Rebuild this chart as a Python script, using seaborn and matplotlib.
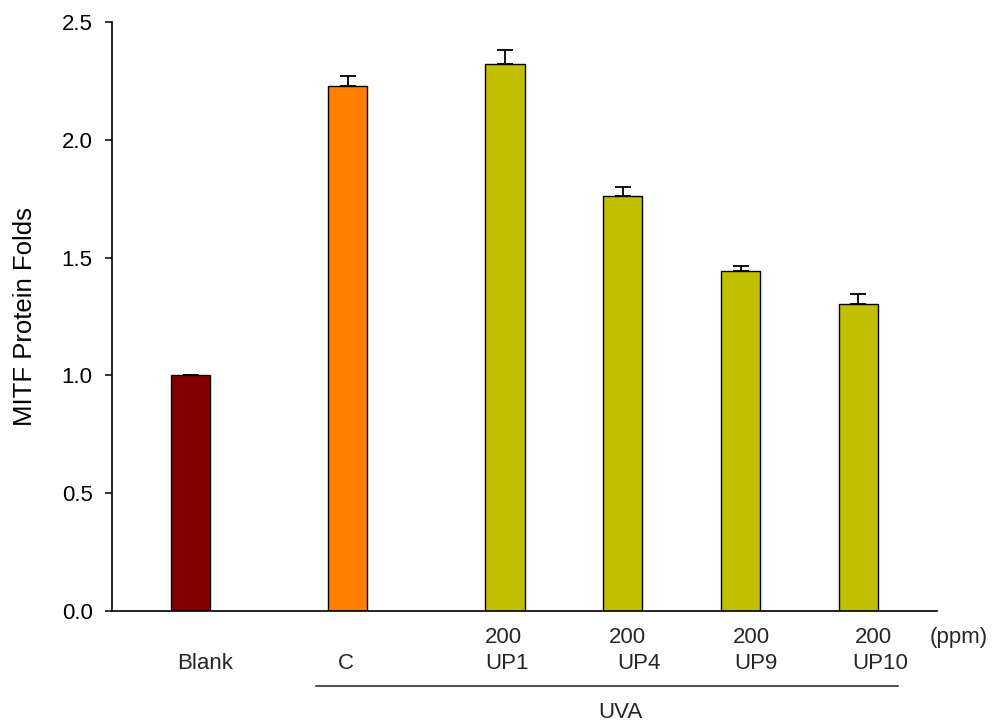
import matplotlib
matplotlib.use("Agg")
import matplotlib.pyplot as plt
import matplotlib.transforms as mtransforms
import seaborn as sns
import pandas as pd

# ---- data ----
categories = ["Blank", "C", "UP1", "UP4", "UP9", "UP10"]
dose_labels = ["", "", "200", "200", "200", "200"]
name_labels = ["Blank", "C", "UP1", "UP4", "UP9", "UP10"]
positions = [0, 4, 8, 11, 14, 17]
values = [1.00, 2.23, 2.32, 1.76, 1.443, 1.305]
errors = [0.0, 0.04, 0.06, 0.04, 0.02, 0.04]
colors = ["#800000", "#FF8000", "#C0C000", "#C0C000", "#C0C000", "#C0C000"]
y_ticks = [0.0, 0.5, 1.0, 1.5, 2.0, 2.5]

# label offsets (pixels) relative to bar centres
dose_dx = [0, 0, -1, 5, 11, 15]
name_dx = [14, -2, 2, 16, 15, 22]

sns.set_theme(style="ticks")
plt.rcParams["font.family"] = ["Liberation Sans", "DejaVu Sans"]

df = pd.DataFrame({"pos": positions, "val": values, "cat": categories})

W, H = 997, 724
fig = plt.figure(figsize=(W / 100, H / 100), dpi=100)
left, right, top, bottom = 112, 937, 22, 611
ax = fig.add_axes([left / W, 1 - bottom / H, (right - left) / W, (bottom - top) / H])

sns.barplot(data=df, x="pos", y="val", hue="cat", palette=dict(zip(categories, colors)),
            native_scale=True, width=1/3, edgecolor="black", linewidth=1.0,
            saturation=1, legend=False, ax=ax, errorbar=None, dodge=False)

ax.errorbar(positions, values, yerr=[[0] * len(errors), errors], fmt="none",
            ecolor="black", elinewidth=1.3, capsize=6, capthick=1.3, zorder=1)

ax.set_xlim(-2.0, 19.0)
ax.set_ylim(0, 2.5)
ax.set_yticks(y_ticks)
ax.set_yticklabels([f"{t:.1f}" for t in y_ticks])
ax.set_xticks([])
ax.tick_params(axis="y", length=5, width=1.1, pad=9, labelsize=16, colors="black")
ax.set_xlabel("")
ax.set_ylabel("MITF Protein Folds", fontsize=18.5, color="black")
ax.yaxis.label.set_va("center")
ax.yaxis.set_label_coords((25 - left) / (right - left), 0.5)

sns.despine(ax=ax)
for s in ("left", "bottom"):
    ax.spines[s].set_linewidth(1.2)
    ax.spines[s].set_color("black")

# category labels under bars
trans = mtransforms.blended_transform_factory(ax.transData, fig.transFigure)
for p, d, n, ddx, ndx in zip(positions, dose_labels, name_labels, dose_dx, name_dx):
    if d:
        t = mtransforms.offset_copy(trans, fig=fig, x=ddx, units="dots")
        ax.text(p, 1 - 643 / H, d, transform=t, ha="center", va="baseline", fontsize=16)
    t = mtransforms.offset_copy(trans, fig=fig, x=ndx, units="dots")
    ax.text(p, 1 - 669 / H, n, transform=t, ha="center", va="baseline", fontsize=16)

# (ppm) label and UVA bracket
ftrans = fig.transFigure
fig.text(959 / W, 1 - 643 / H, "(ppm)", ha="center", va="baseline", fontsize=16)
fig.add_artist(plt.Line2D([316 / W, 898 / W], [1 - 686 / H] * 2, transform=ftrans,
                          color="#555555", linewidth=1.5))
fig.text(620 / W, 1 - 718 / H, "UVA", ha="center", va="baseline", fontsize=16)

fig.savefig("out.png", dpi=100)
